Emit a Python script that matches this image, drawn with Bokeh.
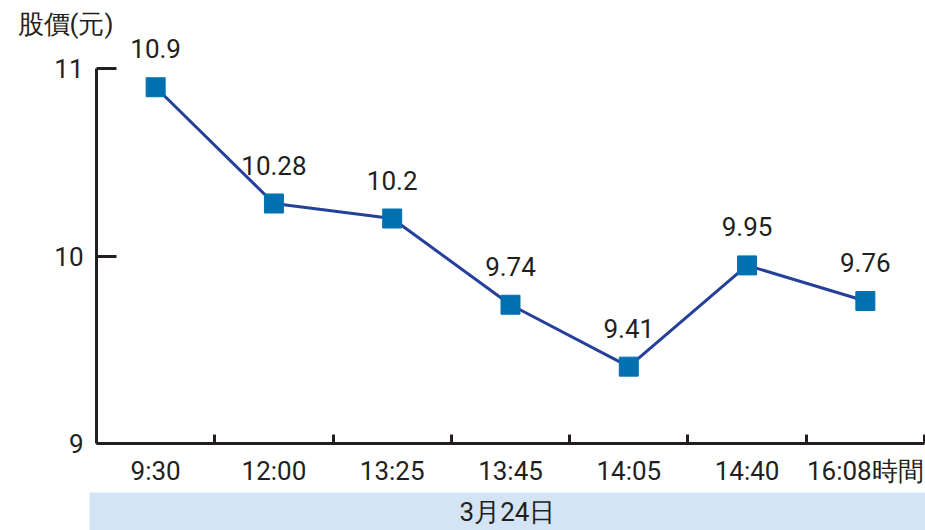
from bokeh.plotting import figure
from bokeh.layouts import column
from bokeh.models import (ColumnDataSource, FixedTicker, LabelSet, Range1d)
from bokeh.core.properties import value
from bokeh.embed import file_html
from bokeh.resources import INLINE

# ---- data ----
times = ["9:30", "12:00", "13:25", "13:45", "14:05", "14:40", "16:08時間"]
prices = [10.9, 10.28, 10.2, 9.74, 9.41, 9.95, 9.76]
price_labels = ["10.9", "10.28", "10.2", "9.74", "9.41", "9.95", "9.76"]
y_ticks = [9, 10, 11]
date_label = "3月24日"
y_title = "股價(元)"

FONT = "Roboto"
TXT = "#231F20"
FS = "26px"

xs = [i + 0.5 for i in range(len(times))]
src = ColumnDataSource(dict(x=xs, y=prices, lab=price_labels))

W = 925
H1, H2 = 492, 38
LEFT = 96
TOP = 38            # px above the frame (title lives here)
BOTTOM = 49         # px below the frame
PX_PER_UNIT = 187.5
y_end = y_ticks[0] + (H1 - TOP - BOTTOM) / PX_PER_UNIT

p = figure(width=W, height=H1, output_backend="svg", toolbar_location=None,
           x_range=Range1d(0, len(times)), y_range=Range1d(y_ticks[0], y_end),
           min_border_left=LEFT, min_border_right=1, min_border_top=TOP,
           min_border_bottom=BOTTOM, title=y_title)
p.outline_line_color = None
p.xgrid.visible = False
p.ygrid.visible = False
p.background_fill_color = "white"
p.border_fill_color = "white"
p.frame_align = False

p.title.text_font = FONT
p.title.text_font_size = FS
p.title.text_font_style = "normal"
p.title.text_color = TXT
p.title.align = "left"
p.title.offset = 17 - LEFT
p.title.standoff = 0

# y axis
ya = p.yaxis[0]
ya.ticker = FixedTicker(ticks=y_ticks)
ya.bounds = (y_ticks[0], y_ticks[-1])
ya.major_tick_in = 20
ya.major_tick_out = 0
ya.minor_tick_in = 0
ya.minor_tick_out = 0
ya.axis_line_width = 3
ya.major_tick_line_width = 3
ya.axis_line_color = TXT
ya.major_tick_line_color = TXT
ya.major_label_text_font = FONT
ya.major_label_text_font_size = FS
ya.major_label_text_color = TXT
ya.major_label_standoff = 13

# x axis: labels at category centres, tick marks at category boundaries
xa = p.xaxis[0]
xa.ticker = FixedTicker(ticks=xs, minor_ticks=list(range(1, len(times) + 1)))
xa.major_label_overrides = {x: t for x, t in zip(xs, times)}
xa.major_tick_in = 0
xa.major_tick_out = 0
xa.minor_tick_in = 9
xa.minor_tick_out = 0
xa.minor_tick_line_width = 3
xa.minor_tick_line_color = TXT
xa.axis_line_width = 3
xa.axis_line_color = TXT
xa.major_label_text_font = FONT
xa.major_label_text_font_size = FS
xa.major_label_text_color = TXT
xa.major_label_standoff = 12

# series
p.line("x", "y", source=src, line_color="#24409A", line_width=3)
p.scatter("x", "y", source=src, marker="square", size=19,
          fill_color="#0070B1", line_color="#0070B1")

p.add_layout(LabelSet(x="x", y="y", text="lab", source=src,
                      y_offset=29, text_align="center",
                      text_baseline="alphabetic", text_font=value(FONT),
                      text_font_size=value(FS), text_color=TXT))

# date band below the chart
p2 = figure(width=W, height=H2, output_backend="svg", toolbar_location=None,
            x_range=Range1d(0, 1), y_range=Range1d(0, 1),
            x_axis_location=None, y_axis_location=None,
            min_border_left=89, min_border_right=0, min_border_top=0,
            min_border_bottom=0)
p2.outline_line_color = None
p2.xgrid.visible = False
p2.ygrid.visible = False
p2.background_fill_color = "#D3E4F4"
p2.border_fill_color = "white"
p2.frame_align = False
p2.text(x=[0.5], y=[0.5], text=[date_label], text_align="center",
        text_baseline="middle", text_font=value(FONT), text_font_size=value(FS),
        text_color=TXT)

layout = column(p, p2, spacing=0)
open("out.html", "w").write(file_html(layout, INLINE))
